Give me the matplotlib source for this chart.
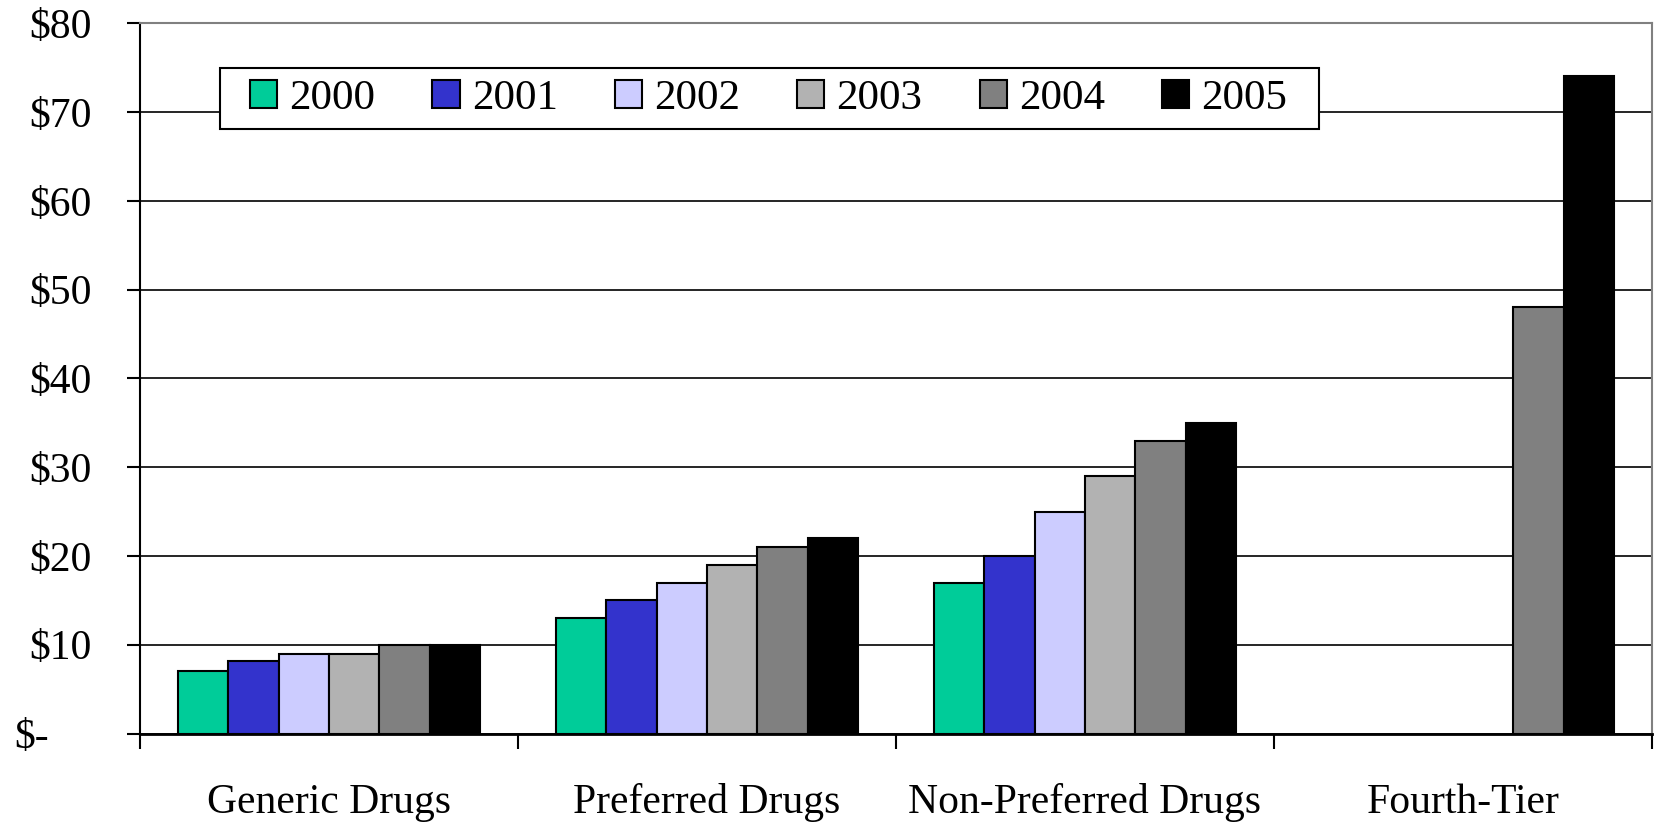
import numpy as np
import matplotlib
matplotlib.use('Agg')
import matplotlib.pyplot as plt
from matplotlib.patches import Rectangle
from matplotlib.transforms import ScaledTranslation

plt.rcParams['font.family'] = ['Liberation Serif', 'DejaVu Serif']

categories = ['Generic Drugs', 'Preferred Drugs', 'Non-Preferred Drugs', 'Fourth-Tier']
years = ['2000', '2001', '2002', '2003', '2004', '2005']
# copay per year, one list per year across the four categories
y2000 = [7, 13, 17, np.nan]
y2001 = [8.2, 15, 20, np.nan]
y2002 = [9, 17, 25, np.nan]
y2003 = [9, 19, 29, np.nan]
y2004 = [10, 21, 33, 48]
y2005 = [10, 22, 35, 74]
series = [y2000, y2001, y2002, y2003, y2004, y2005]
colours = ['#00CC99', '#3333CC', '#CCCCFF', '#B2B2B2', '#808080', '#000000']
ytick_vals = [0, 10, 20, 30, 40, 50, 60, 70, 80]
ytick_labels = ['$-', '$10', '$20', '$30', '$40', '$50', '$60', '$70', '$80']

W, H = 1655, 824
fig = plt.figure(figsize=(W / 100, H / 100), dpi=100)
ax = fig.add_axes([140 / W, (H - 733.5) / H, (1652 - 140) / W, (733.5 - 23.2) / H])

centers = np.arange(len(categories)) + 0.5
w = 0.8 / len(years)
for i, (vals, c, yr) in enumerate(zip(series, colours, years)):
    ax.bar(centers + (i - 2.5) * w, vals, width=w, color=c, edgecolor='black',
           linewidth=1.5, label=yr, zorder=3)

ax.set_xlim(0, len(categories))
ax.set_ylim(0, 80)
ax.set_yticks(ytick_vals)
ax.set_yticklabels(ytick_labels, fontsize=30)
ax.yaxis.grid(True, color='black', linewidth=1.2, zorder=0)
ax.set_axisbelow(True)

ax.set_xticks(np.arange(len(categories) + 1))
ax.set_xticklabels([])
ax.set_xticks(centers, minor=True)
ax.set_xticklabels(categories, minor=True, fontsize=30)
ax.tick_params(axis='x', which='major', direction='out', length=11, width=1.5)
ax.tick_params(axis='x', which='minor', length=0, pad=36)
ax.tick_params(axis='y', direction='out', length=9.5, width=1.5, pad=25)

# accounting-style zero label sits further left
zl = ax.get_yticklabels()[0]
zl.set_transform(zl.get_transform() + ScaledTranslation(-0.43, 0, fig.dpi_scale_trans))

ax.spines['left'].set_linewidth(1.5)
ax.spines['bottom'].set_linewidth(2)
ax.spines['top'].set_color('#808080')
ax.spines['right'].set_color('#808080')
ax.spines['top'].set_linewidth(1.5)
ax.spines['right'].set_linewidth(1.5)

# legend box drawn by hand for the wide side padding
ax.add_patch(Rectangle((220 / W, 1 - 129 / H), 1099 / W, 61 / H, transform=fig.transFigure,
                       facecolor='white', edgecolor='black', linewidth=1.5,
                       zorder=4, clip_on=False))
leg = ax.legend(ncol=6, loc='center left', bbox_to_anchor=(250 / W, 1 - 99 / H),
                bbox_transform=fig.transFigure, fontsize=31, frameon=False,
                handlelength=0.63, handleheight=0.63, handletextpad=0.28,
                columnspacing=1.33, borderpad=0, borderaxespad=0)
leg.set_zorder(5)

fig.savefig('out.png', dpi=100)
